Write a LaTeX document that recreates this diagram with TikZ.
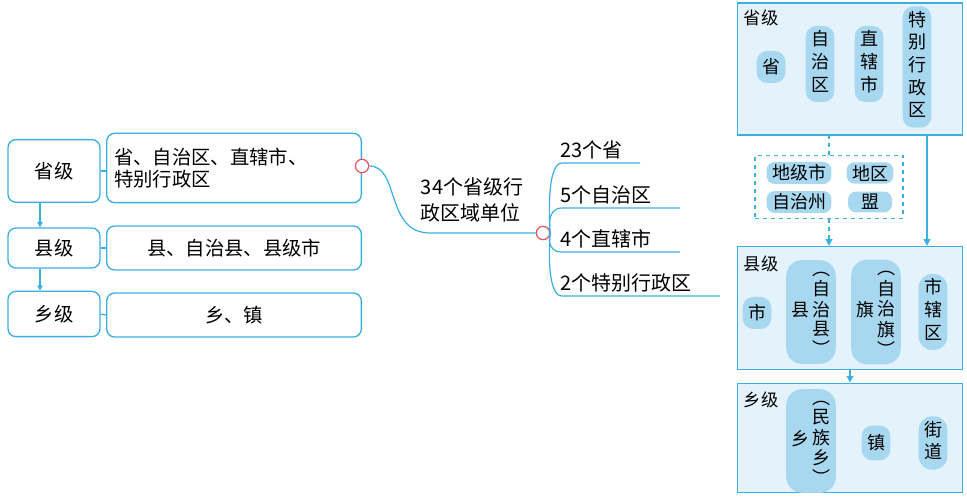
\documentclass[tikz,border=0pt]{standalone}
\usepackage{fontspec}
\setmainfont{Noto Sans CJK SC}
\usetikzlibrary{arrows.meta}
\definecolor{ln}{HTML}{3AAFE0}
\definecolor{bg}{HTML}{E4F3FB}
\definecolor{pl}{HTML}{A8D8F0}
\definecolor{rd}{HTML}{E8505B}
\tikzset{
 lbox/.style={draw=ln,line width=1pt,rounded corners=6pt,inner sep=0pt,font=\fontsize{14.5}{17}\selectfont},
 bigbox/.style={draw=ln,line width=1.2pt,fill=bg},
 pill/.style={fill=pl,rounded corners=8pt,inner xsep=4pt,inner ysep=3pt,align=center,font=\fontsize{13.5}{17}\selectfont},
 ttl/.style={font=\fontsize{13}{15}\selectfont},
 br/.style={ln,line width=0.9pt},
 dot/.style={circle,draw=rd,fill=white,line width=0.9pt,minimum size=10pt,inner sep=0pt},
 arr/.style={ln,line width=1.2pt,-{Triangle[length=5pt,width=5pt]}},
 txt/.style={font=\fontsize{15}{19}\selectfont,align=left}
}
\newcommand{\vt}[1]{\begin{tabular}{@{}c@{}}#1\end{tabular}}
\newcommand{\vtt}[1]{{\renewcommand{\arraystretch}{0.78}\begin{tabular}{@{}c@{}}#1\end{tabular}}}
\begin{document}
\begin{tikzpicture}[x=0.75pt,y=-0.75pt]
\useasboundingbox (0,0) rectangle (967,498);
% left
\node[lbox,minimum width=69pt,minimum height=47pt] (L1) at (54,171) {省级};
\node[lbox,minimum width=69pt,minimum height=30pt] (L2) at (54,248) {县级};
\node[lbox,minimum width=69pt,minimum height=34pt] (L3) at (54,314) {乡级};
\node[lbox,minimum width=191pt,minimum height=52pt,align=left,text width=180pt] (R1) at (234,168) {省、自治区、直辖市、\\特别行政区};
\node[lbox,minimum width=191pt,minimum height=33pt] (R2) at (234,248) {县、自治县、县级市};
\node[lbox,minimum width=191pt,minimum height=33pt] (R3) at (234,315) {乡、镇};
\draw[br] (L1.east) -- (L1.east-|R1.west);
\draw[br] (L2.east) -- (R2.west);
\draw[br] (L3.east) -- (R3.west);
\draw[ln,line width=0.8pt,-{Triangle[length=4pt,width=4pt]}] (L1.south-|40,0) -- (L2.north-|40,0);
\draw[ln,line width=0.8pt,-{Triangle[length=4pt,width=4pt]}] (L2.south-|40,0) -- (L3.north-|40,0);
% middle
\node[dot] (c1) at (362,166) {};
\node[dot] (c2) at (543,233) {};
\draw[br] (c1.east) .. controls (400,166) and (385,233) .. (430,233) -- (c2.west);
\node[txt] (mt) at (472,200) {34个省级行\\政区域单位};
\coordinate (e1) at (640,163);
\coordinate (e2) at (680,208);
\coordinate (e3) at (680,252);
\coordinate (e4) at (720,296);
\draw[br] (c2.east) .. controls (550,233) and (545,163) .. (562,163) -- (e1);
\draw[br] (c2.east) .. controls (550,233) and (545,208) .. (562,208) -- (e2);
\draw[br] (c2.east) .. controls (550,233) and (545,252) .. (562,252) -- (e3);
\draw[br] (c2.east) .. controls (550,233) and (545,296) .. (562,296) -- (e4);
\node[txt,anchor=south west] (t1) at (556,164) {23个省};
\node[txt,anchor=south west] (t2) at (556,209) {5个自治区};
\node[txt,anchor=south west] (t3) at (556,253) {4个直辖市};
\node[txt,anchor=south west] (t4) at (556,297) {2个特别行政区};
% right
\node[bigbox,minimum width=169pt,minimum height=99pt,inner sep=0pt] (B1) at (850,69) {};
\node[ttl,anchor=north west] (b1t) at (739,5) {省级};
\node[pill,minimum height=24pt] (p1) at (771,67) {省};
\node[pill] (p2) at (820,64) {\vt{自\\治\\区}};
\node[pill] (p3) at (869,64) {\vt{直\\辖\\市}};
\node[pill] (p4) at (917,67) {\vt{特\\别\\行\\政\\区}};
\node[draw=ln,dashed,line width=1.2pt,minimum width=111pt,minimum height=47pt,inner sep=0pt] (D) at (829,187) {};
\node[pill,rounded corners=6pt,inner ysep=2pt] (q1) at (799,173) {地级市};
\node[pill,rounded corners=6pt,inner ysep=2pt] (q2) at (870,173) {地区};
\node[pill,rounded corners=6pt,inner ysep=2pt] (q3) at (799,202) {自治州};
\node[pill,rounded corners=6pt,inner ysep=2pt,minimum width=33pt] (q4) at (870,202) {盟};
\node[bigbox,minimum width=169pt,minimum height=92pt,inner sep=0pt] (B2) at (850,308) {};
\node[ttl,anchor=north west] (b2t) at (739,251) {县级};
\node[pill,minimum height=24pt] (s1) at (757,313) {市};
\node[pill,rounded corners=12pt,inner ysep=2pt] (s2) at (811,312) {县\,\vtt{︵\\自\\治\\县\\︶}};
\node[pill,rounded corners=12pt,inner ysep=2pt] (s3) at (876,312) {旗\,\vtt{︵\\自\\治\\旗\\︶}};
\node[pill,rounded corners=10pt] (s4) at (933,312) {\vt{市\\辖\\区}};
\node[bigbox,minimum width=169pt,minimum height=82pt,inner sep=0pt] (B3) at (850,438) {};
\node[ttl,anchor=north west] (b3t) at (739,387) {乡级};
\node[pill,rounded corners=12pt,inner ysep=2pt] (u1) at (811,441) {乡\,\vtt{︵\\民\\族\\乡\\︶}};
\node[pill,minimum height=26pt] (u2) at (876,443) {镇};
\node[pill,rounded corners=10pt] (u3) at (933,443) {\vt{街\\道}};
\draw[ln,dashed,line width=1.2pt] (D.north-|829,0) -- (B1.south-|829,0);
\draw[arr,dashed] (D.south-|829,0) -- (B2.north-|829,0);
\draw[arr] (B1.south-|927,0) -- (B2.north-|927,0);
\draw[arr] (B2.south-|850,0) -- (B3.north);
\end{tikzpicture}
\end{document}
